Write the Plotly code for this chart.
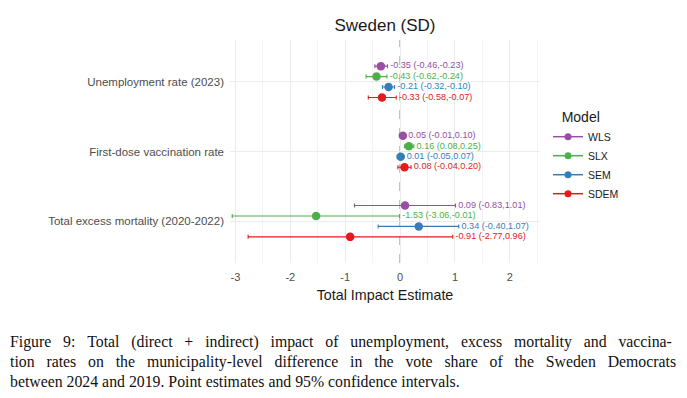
import plotly.graph_objects as go

# ---- data ----
categories = ["Unemployment rate (2023)", "First-dose vaccination rate", "Total excess mortality (2020-2022)"]
models = ["WLS", "SLX", "SEM", "SDEM"]
colors = {"WLS": "#984EA3", "SLX": "#4DAF4A", "SEM": "#377EB8", "SDEM": "#E41A1C"}

est_wls = [-0.35, 0.05, 0.09]
lo_wls = [-0.46, -0.01, -0.83]
hi_wls = [-0.23, 0.10, 1.01]

est_slx = [-0.43, 0.16, -1.53]
lo_slx = [-0.62, 0.08, -3.06]
hi_slx = [-0.24, 0.25, -0.01]

est_sem = [-0.21, 0.01, 0.34]
lo_sem = [-0.32, -0.05, -0.40]
hi_sem = [-0.10, 0.07, 1.07]

est_sdem = [-0.33, 0.08, -0.91]
lo_sdem = [-0.58, -0.04, -2.77]
hi_sdem = [-0.07, 0.20, 0.96]

x_ticks = [-3, -2, -1, 0, 1, 2]

caption_lines = [
    "Figure 9: Total (direct + indirect) impact of unemployment, excess mortality and vaccina-",
    "tion rates on the municipality-level difference in the vote share of the Sweden Democrats",
    "between 2024 and 2019. Point estimates and 95% confidence intervals.",
]
caption_justified = [True, True, False]

series = {
    "WLS": (est_wls, lo_wls, hi_wls),
    "SLX": (est_slx, lo_slx, hi_slx),
    "SEM": (est_sem, lo_sem, hi_sem),
    "SDEM": (est_sdem, lo_sdem, hi_sdem),
}

# ---- layout helpers (dodge) ----
n_cat = len(categories)
cat_pos = [n_cat - 1 - i for i in range(n_cat)]
dodge_width = 0.6
step = dodge_width / len(models)
offsets = {m: dodge_width / 2 - step / 2 - k * step for k, m in enumerate(models)}
label_nudge = 0.05

FONT = "Liberation Sans, Arial, Helvetica, sans-serif"

# page body adds an 8px margin; figure coordinates are screen - 8
W, H = 679, 390
PL, PR, PT, PB = 222, 532, 32, 255
PW, PH = PR - PL, PB - PT

fig = go.Figure()

for m in models:
    est, lo, hi = series[m]
    ys = [p + offsets[m] for p in cat_pos]
    c = colors[m]
    fig.add_trace(go.Scatter(
        x=est, y=ys, mode="markers",
        marker=dict(color=c, size=8.5),
        error_x=dict(type="data", symmetric=False,
                     array=[h - e for h, e in zip(hi, est)],
                     arrayminus=[e - l for e, l in zip(est, lo)],
                     color=c, thickness=1.1, width=2),
        showlegend=False, hoverinfo="skip",
    ))
    fig.add_trace(go.Scatter(
        x=[h + label_nudge for h in hi], y=ys, mode="text",
        text=[f"{e:.2f} ({l:.2f},{h:.2f})" for e, l, h in zip(est, lo, hi)],
        textposition="middle right",
        textfont=dict(color=c, size=9.1, family=FONT),
        showlegend=False, hoverinfo="skip",
    ))
    fig.add_trace(go.Scatter(
        x=[None], y=[None], mode="lines+markers", name=m,
        marker=dict(color=c, size=7), line=dict(color=c, width=1.5),
    ))

# zero line
fig.add_shape(type="line", x0=0, x1=0, y0=0, y1=1, xref="x", yref="paper",
              line=dict(color="#8a8a8a", width=1.2, dash="dash"), layer="below")

fig.update_layout(
    width=W, height=H,
    margin=dict(l=PL, r=W - PR, t=PT, b=H - PB),
    paper_bgcolor="white", plot_bgcolor="white",
    font=dict(family=FONT, color="#4d4d4d"),
    title=dict(text="Sweden (SD)", x=(PL + PR) / 2 / W, xanchor="center",
               y=1 - 17 / H, yanchor="middle",
               font=dict(size=17, color="#1a1a1a", family=FONT)),
    xaxis=dict(range=[-3.1, 2.55], tickvals=x_ticks, ticktext=[str(t) for t in x_ticks],
               showgrid=True, gridcolor="#ebebeb", gridwidth=1,
               minor=dict(dtick=0.5, tick0=0.5, showgrid=True, gridcolor="#f4f4f4", gridwidth=0.6),
               zeroline=False, showline=False, ticks="", ticklabelstandoff=6,
               tickfont=dict(size=11, color="#4d4d4d"),
               title=dict(text="Total Impact Estimate", font=dict(size=14.3, color="#1a1a1a"), standoff=7)),
    yaxis=dict(range=[-0.6, n_cat - 1 + 0.6], tickvals=cat_pos, ticktext=categories,
               showgrid=True, gridcolor="#ebebeb", gridwidth=1,
               zeroline=False, showline=False, ticks="", ticklabelstandoff=5,
               tickfont=dict(size=11.5, color="#4d4d4d")),
    legend=dict(title=dict(text="&nbsp;&nbsp;&nbsp;Model", font=dict(size=14, color="#1a1a1a")),
                x=(540 - PL) / PW, xanchor="left",
                y=(PB - 96) / PH, yanchor="top",
                font=dict(size=10.5, color="#1a1a1a"),
                bgcolor="rgba(0,0,0,0)", tracegroupgap=0),
)

for i, line in enumerate(caption_lines):
    shown = line.replace(" ", " \u2002") if caption_justified[i] else line
    fig.add_annotation(text=shown, xref="paper", yref="paper",
                       x=-PL / PW, xanchor="left",
                       y=(PB - (334 + 19.5 * i)) / PH, yanchor="middle",
                       showarrow=False,
                       font=dict(family="Liberation Serif, DejaVu Serif, serif", size=15.8, color="#111111"))

fig.write_html("out.html")
